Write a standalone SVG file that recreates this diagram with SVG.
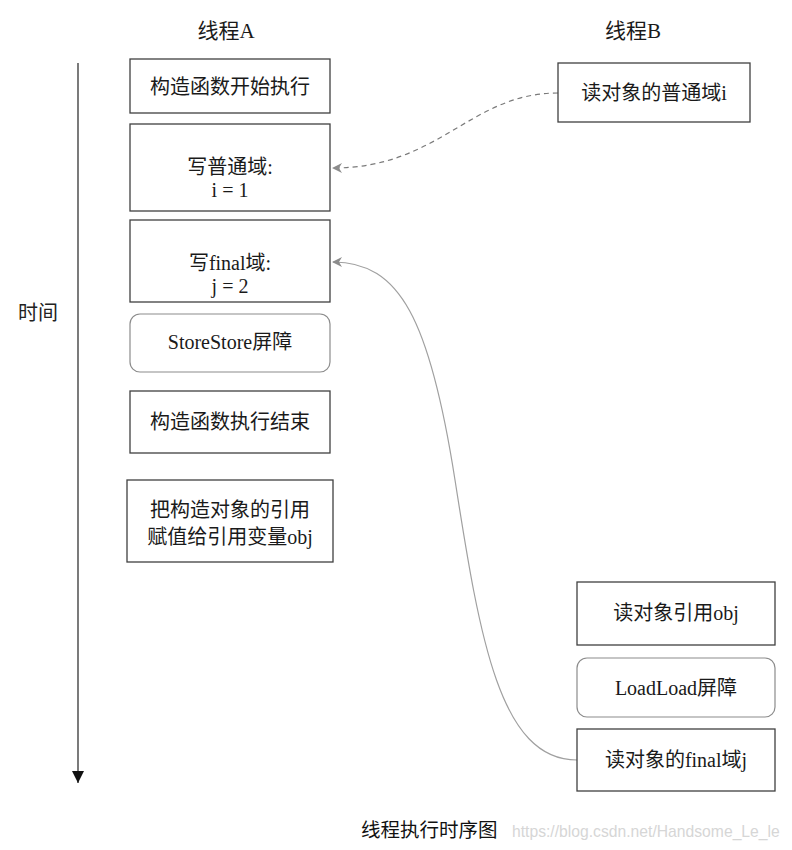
<svg xmlns="http://www.w3.org/2000/svg" width="792" height="850" viewBox="0 0 792 850">
<style>
.box{fill:#fff;stroke:#404040;stroke-width:1.3}
.rbox{fill:#fff;stroke:#8c8c8c;stroke-width:1.2}
.t{font-family:"Liberation Serif","Noto Sans CJK SC",serif;font-size:20px;fill:#1a1a1a;text-anchor:middle}
.h{font-family:"Liberation Serif","Noto Sans CJK SC",serif;font-size:21px;fill:#1a1a1a;text-anchor:middle}
</style>
<defs>
<marker id="ah" viewBox="0 0 10 10" refX="9" refY="5" markerWidth="10" markerHeight="10" markerUnits="userSpaceOnUse" orient="auto"><path d="M0,0 L10,5 L0,10 L3,5 Z" fill="#8c8c8c"/></marker>
<marker id="tip" viewBox="0 0 12 12" refX="12" refY="6" markerWidth="12" markerHeight="13" markerUnits="userSpaceOnUse" orient="auto"><path d="M0,0 L12,6 L0,12 Z" fill="#111"/></marker>
</defs>
<rect width="792" height="850" fill="#fff"/>
<text class="h" x="226" y="38">线程A</text>
<text class="h" x="633" y="38">线程B</text>
<text x="38" y="320" font-family="'Noto Sans CJK SC',sans-serif" font-size="20" fill="#222" text-anchor="middle">时间</text>
<g id="connectors">
<line x1="78" y1="63" x2="78" y2="783" stroke="#333" stroke-width="1.3" marker-end="url(#tip)"/>
<path d="M558,93 C470,93 440,168 333,168" fill="none" stroke="#7a7a7a" stroke-width="1.2" stroke-dasharray="5,4" marker-end="url(#ah)"/>
<path d="M577,760 C500,760 480,640 455,480 C430,320 400,262 333,262" fill="none" stroke="#a0a0a0" stroke-width="1.2" marker-end="url(#ah)"/>
</g>
<g id="a1"><rect class="box" x="130" y="59" width="200" height="54"/><text class="t" x="230" y="94">构造函数开始执行</text></g>
<g id="a2"><rect class="box" x="130" y="124" width="200" height="87"/><text class="t" x="230" y="174">写普通域:</text><text class="t" x="230" y="197">i = 1</text></g>
<g id="a3"><rect class="box" x="130" y="220" width="200" height="82"/><text class="t" x="230" y="270">写final域:</text><text class="t" x="230" y="293">j = 2</text></g>
<g id="a4"><rect class="rbox" x="130" y="314" width="200" height="58" rx="10"/><text class="t" x="230" y="349">StoreStore屏障</text></g>
<g id="a5"><rect class="box" x="130" y="391" width="200" height="62"/><text class="t" x="230" y="429">构造函数执行结束</text></g>
<g id="a6"><rect class="box" x="127" y="480" width="206" height="82"/><text class="t" x="230" y="517">把构造对象的引用</text><text class="t" x="230" y="544">赋值给引用变量obj</text></g>
<g id="b1"><rect class="box" x="558" y="63" width="192" height="59"/><text class="t" x="654" y="100">读对象的普通域i</text></g>
<g id="b2"><rect class="box" x="577" y="582" width="198" height="63"/><text class="t" x="676" y="620">读对象引用obj</text></g>
<g id="b3"><rect class="rbox" x="577" y="658" width="198" height="59" rx="10"/><text class="t" x="676" y="695">LoadLoad屏障</text></g>
<g id="b4"><rect class="box" x="577" y="729" width="198" height="62"/><text class="t" x="676" y="767">读对象的final域j</text></g>
<text x="361" y="837" font-family="'Noto Sans CJK SC',sans-serif" font-size="19.5" fill="#111">线程执行时序图</text>
<text x="512" y="837" font-family="'Liberation Sans',sans-serif" font-size="15.7" fill="#d6d6d6">https://blog.csdn.net/Handsome_Le_le</text>
</svg>
